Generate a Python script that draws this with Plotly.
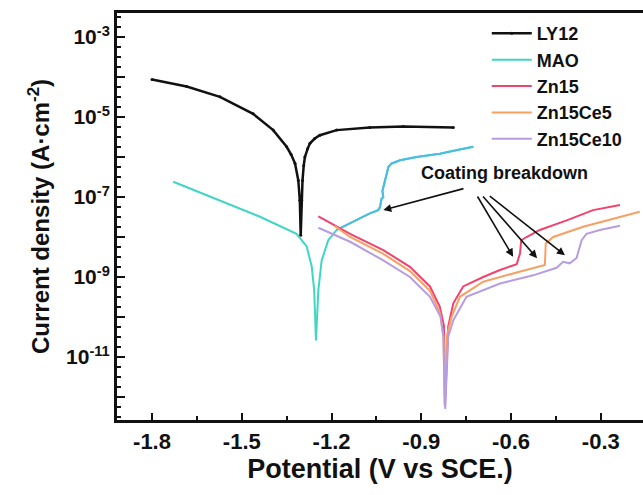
import math
import plotly.graph_objects as go

# ---------------- data ----------------
ly12_x = [-1.80, -1.684, -1.573, -1.462, -1.395, -1.35, -1.335, -1.322, -1.311, -1.306, -1.303,
          -1.300, -1.297, -1.293, -1.289, -1.28, -1.272, -1.256, -1.239, -1.183, -1.072, -0.96, -0.793]
ly12_y = [8.7e-5, 5.8e-5, 3.2e-5, 1.2e-5, 4.7e-6, 1.8e-6, 1.15e-6, 6.9e-7, 2.6e-7, 8.3e-8, 1.1e-8,
          8.3e-8, 2.6e-7, 6.0e-7, 1.0e-6, 1.6e-6, 2.2e-6, 2.9e-6, 3.5e-6, 4.7e-6, 5.5e-6, 5.8e-6, 5.5e-6]

mao_x = [-1.729, -1.573, -1.439, -1.317, -1.283, -1.266, -1.258, -1.252, -1.244, -1.233,
         -1.211, -1.183, -1.127, -1.072, -1.044, -1.038, -1.033, -1.027, -1.030, -1.022,
         -1.016, -1.010, -0.999, -0.971, -0.916, -0.838, -0.78, -0.726]
mao_y = [2.4e-7, 8.3e-8, 3.2e-8, 1.2e-8, 5.8e-9, 1.8e-9, 4.7e-10, 2.6e-11, 4.7e-10, 2.6e-9,
         8.3e-9, 1.5e-8, 2.4e-8, 3.9e-8, 4.7e-8, 5.6e-8, 8.9e-8, 1.0e-7, 1.4e-7, 2.5e-7,
         4.0e-7, 5.6e-7, 6.9e-7, 8.3e-7, 1.0e-6, 1.2e-6, 1.5e-6, 1.8e-6]
mao_blue_from = 11  # index from which the MAO anodic branch looks bluer

zn15_x = [-1.244, -1.138, -1.027, -0.938, -0.871, -0.838, -0.824, -0.821, -0.81, -0.793,
          -0.76, -0.693, -0.637, -0.581, -0.57, -0.566, -0.548, -0.504, -0.414, -0.326, -0.236]
zn15_y = [3.3e-8, 1.2e-8, 4.7e-9, 1.8e-9, 5.8e-10, 1.8e-10, 5.8e-11, 5.8e-13, 5.8e-11, 2.2e-10,
          5.8e-10, 1.0e-9, 1.5e-9, 2.1e-9, 3.9e-9, 8.3e-9, 1.0e-8, 1.5e-8, 2.6e-8, 4.7e-8, 6.3e-8]

zn15ce5_x = [-1.19, -1.138, -1.027, -0.938, -0.871, -0.838, -0.826, -0.822, -0.815, -0.799,
             -0.771, -0.693, -0.581, -0.504, -0.487, -0.484, -0.459, -0.359, -0.247, -0.17]
zn15ce5_y = [1.9e-8, 1.0e-8, 3.8e-9, 1.4e-9, 4.5e-10, 1.3e-10, 3.2e-11, 6.3e-13, 3.2e-11, 1.0e-10,
             3.2e-10, 7.6e-10, 1.3e-9, 1.8e-9, 2.0e-9, 6.9e-9, 1.0e-8, 1.8e-8, 3.0e-8, 4.3e-8]

zn15ce10_x = [-1.244, -1.138, -1.027, -0.938, -0.871, -0.835, -0.826, -0.82, -0.81, -0.793,
              -0.749, -0.637, -0.526, -0.448, -0.426, -0.404, -0.381, -0.364, -0.348, -0.303, -0.236]
zn15ce10_y = [1.7e-8, 7.6e-9, 2.6e-9, 1.0e-9, 3.2e-10, 1.0e-10, 3.2e-11, 5.0e-13, 3.2e-11, 8.3e-11,
              3.2e-10, 6.9e-10, 1.1e-9, 1.7e-9, 2.4e-9, 2.2e-9, 3.0e-9, 8.3e-9, 1.2e-8, 1.5e-8, 1.9e-8]

x_tickvals = [-1.8, -1.5, -1.2, -0.9, -0.6, -0.3]
x_ticktext = ["-1.8", "-1.5", "-1.2", "-0.9", "-0.6", "-0.3"]
y_tickvals = [1e-3, 1e-4, 1e-5, 1e-6, 1e-7, 1e-8, 1e-9, 1e-10, 1e-11, 1e-12]
y_ticktext = ["10<sup>-3</sup>", "", "10<sup>-5</sup>", "", "10<sup>-7</sup>", "",
              "10<sup>-9</sup>", "", "10<sup>-11</sup>", ""]

annot_text = "Coating breakdown"
annot_pos = (-0.621, 3.9e-7)
# arrows: (tail x, tail current, head x, head current)
arrows = [(-0.754, 1.66e-7, -1.027, 4.7e-8),
          (-0.715, 1.12e-7, -0.593, 3.2e-9),
          (-0.698, 1.12e-7, -0.513, 2.95e-9),
          (-0.676, 1.12e-7, -0.420, 3.5e-9)]

FONT = "Arial, Liberation Sans, sans-serif"

fig = go.Figure()
fig.add_trace(go.Scatter(x=ly12_x, y=ly12_y, name="LY12", mode="lines+markers",
                         line=dict(color="#111111", width=2.5), marker=dict(size=3, color="#111111")))
fig.add_trace(go.Scatter(x=mao_x, y=mao_y, name="MAO", mode="lines", legendgroup="mao",
                         line=dict(color="#3fd6c4", width=2)))
fig.add_trace(go.Scatter(x=mao_x[mao_blue_from:], y=mao_y[mao_blue_from:], name="MAO",
                         mode="lines", legendgroup="mao", showlegend=False,
                         line=dict(color="#4cbce4", width=2)))
fig.add_trace(go.Scatter(x=zn15_x, y=zn15_y, name="Zn15", mode="lines",
                         line=dict(color="#f2426e", width=2)))
fig.add_trace(go.Scatter(x=zn15ce5_x, y=zn15ce5_y, name="Zn15Ce5", mode="lines",
                         line=dict(color="#f7a064", width=2)))
fig.add_trace(go.Scatter(x=zn15ce10_x, y=zn15ce10_y, name="Zn15Ce10", mode="lines",
                         line=dict(color="#b79ce0", width=2)))

annotations = [dict(x=annot_pos[0], y=math.log10(annot_pos[1]), xref="x", yref="y", text=annot_text,
                    showarrow=False, font=dict(family=FONT, size=18, color="#111", weight="bold"))]
for tx, ty, hx, hy in arrows:
    annotations.append(dict(x=hx, y=math.log10(hy), ax=tx, ay=math.log10(ty),
                            xref="x", yref="y", axref="x", ayref="y", text="",
                            showarrow=True, arrowhead=2, arrowsize=1, arrowwidth=1.6,
                            arrowcolor="#111"))

minor_vals = []
for e in range(-13, -2):
    for f in (0.25, 0.5, 0.75):
        minor_vals.append(10 ** (e + f))

fig.update_layout(
    width=643, height=495,
    margin=dict(l=117, r=0, t=13, b=75),
    paper_bgcolor="white", plot_bgcolor="white",
    font=dict(family=FONT, color="#111"),
    showlegend=True,
    legend=dict(x=0.703, y=0.995, xanchor="left", yanchor="top", itemwidth=40,
                font=dict(family=FONT, size=18, color="#111", weight="bold"),
                bgcolor="rgba(0,0,0,0)", borderwidth=0, tracegroupgap=0),
    annotations=annotations,
    xaxis=dict(range=[-1.917, -0.159], tickvals=x_tickvals, ticktext=x_ticktext,
               automargin=False,
               ticks="inside", ticklen=7, tickwidth=2, tickcolor="#111",
               showline=True, linecolor="#111", linewidth=3, mirror=True,
               showgrid=False, zeroline=False,
               minor=dict(tickvals=[-1.65, -1.35, -1.05, -0.75, -0.45], ticks="inside",
                          ticklen=4, tickwidth=2, tickcolor="#111", showgrid=False),
               tickfont=dict(family=FONT, size=22, color="#111", weight="bold"),
               title=dict(text="Potential (V vs SCE.)", standoff=4,
                          font=dict(family=FONT, size=27, color="#111", weight="bold"))),
    yaxis=dict(type="log", range=[-12.575, -2.4], tickvals=y_tickvals, ticktext=y_ticktext,
               automargin=False,
               ticks="inside", ticklen=8, tickwidth=2, tickcolor="#111",
               showline=True, linecolor="#111", linewidth=3, mirror=False,
               showgrid=False, zeroline=False,
               minor=dict(tickvals=minor_vals, ticks="inside", ticklen=4, tickwidth=2,
                          tickcolor="#111", showgrid=False),
               tickfont=dict(family=FONT, size=21, color="#111", weight="bold"),
               title=dict(text="Current density (A·cm<sup>-2</sup>)", standoff=10,
                          font=dict(family=FONT, size=24, color="#111", weight="bold"))),
)

fig.write_html("out.html", config={"displayModeBar": False},
               post_script="document.body.style.margin='0px';")
